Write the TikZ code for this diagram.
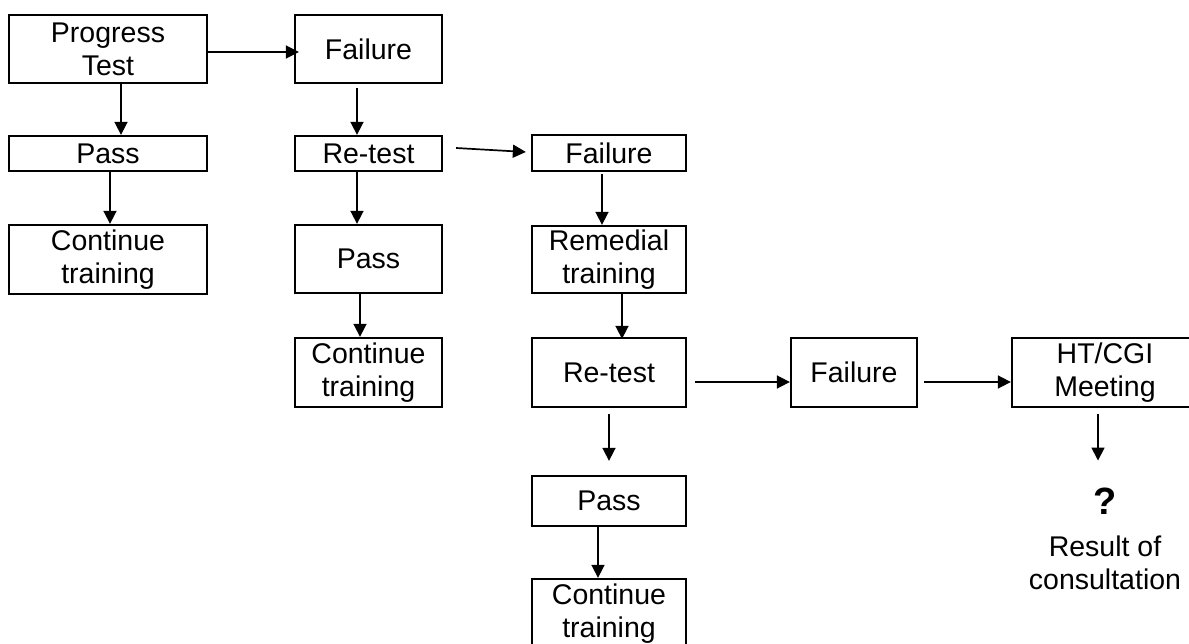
\documentclass[tikz,border=0pt]{standalone}
\usepackage{fontspec}
\setmainfont{Liberation Sans}
\usetikzlibrary{arrows.meta,calc}
\begin{document}
\begin{tikzpicture}[x=1pt,y=-1pt,
  box/.style={draw, line width=2.3pt, inner sep=0pt, align=center, font=\fontsize{28.5}{33}\selectfont},
  arr/.style={line width=1.7pt, -{Triangle[length=13pt,width=13pt]}},
  plain/.style={inner sep=0pt, align=center}
]
\useasboundingbox (0,0) rectangle (1189,644);
\clip (0,0) rectangle (1189,644);
% column 1
\node[box, minimum width=198pt, minimum height=68pt] (prog) at (108,49) {Progress\\Test};
\node[box, minimum width=198pt, minimum height=35pt] (pass1) at (108,153.5) {Pass};
\node[box, minimum width=198pt, minimum height=69pt] (cont1) at (108,259.5) {Continue\\training};
% column 2
\node[box, minimum width=147pt, minimum height=68pt] (fail1) at (368.5,49) {Failure};
\node[box, minimum width=147pt, minimum height=35pt] (retest1) at (368.5,153.5) {Re-test};
\node[box, minimum width=147pt, minimum height=68pt] (pass2) at (368.5,259) {Pass};
\node[box, minimum width=147pt, minimum height=69pt] (cont2) at (368.5,372.5) {Continue\\training};
% column 3
\node[box, minimum width=154pt, minimum height=36pt] (fail2) at (609,153) {Failure};
\node[box, minimum width=154pt, minimum height=67pt] (remed) at (609,259.5) {Remedial\\training};
\node[box, minimum width=154pt, minimum height=69pt] (retest2) at (609,372.5) {Re-test};
\node[box, minimum width=154pt, minimum height=50pt] (pass3) at (609,501) {Pass};
\node[box, minimum width=154pt, minimum height=69pt] (cont3) at (609,613.5) {Continue\\training};
% right part
\node[box, minimum width=126pt, minimum height=69pt] (fail3) at (854,372.5) {Failure};
\node[box, minimum width=186pt, minimum height=69pt] (ht) at (1105,372.5) {HT/CGI\\Meeting};
\node[plain, font=\fontsize{38}{38}\selectfont\bfseries] (q) at (1105,501) {?};
\node[plain, font=\fontsize{28.5}{33}\selectfont] (res) at (1105,563) {Result of\\consultation};
% connectors
\draw[arr] ($(prog.east)+(-2,3)$) -- ($(fail1.west)+(5,3)$);
\draw[arr] ($(prog.south)+(13,0)$) -- ($(pass1.north)+(13,0)$);
\draw[arr] ($(pass1.south)+(2,0)$) -- ($(cont1.north)+(2,0)$);
\draw[arr] ($(fail1.south)+(-11.5,4)$) -- ($(retest1.north)+(-11.5,0)$);
\draw[arr] ($(retest1.south)+(-11.5,0)$) -- ($(pass2.north)+(-11.5,0)$);
\draw[arr] ($(pass2.south)+(-8.5,0)$) -- ($(cont2.north)+(-8.5,0)$);
\draw[arr] ($(retest1.east)+(13,-5.5)$) -- ($(fail2.west)+(-5,-1)$);
\draw[arr] ($(fail2.south)+(-7,2)$) -- ($(remed.north)+(-7,0)$);
\draw[arr] ($(remed.south)+(13,0)$) -- ($(retest2.north)+(13,2)$);
\draw[arr] ($(retest2.south)+(0,6)$) -- ($(pass3.north)+(0,-14)$);
\draw[arr] ($(pass3.south)+(-11,0)$) -- ($(cont3.north)+(-11,0)$);
\draw[arr] ($(retest2.east)+(8,9.5)$) -- ($(fail3.west)+(0,9.5)$);
\draw[arr] ($(fail3.east)+(6,9.5)$) -- ($(ht.west)+(0,9.5)$);
\draw[arr] ($(ht.south)+(-7,6)$) -- ($(q.north)+(-7,-27)$);
\end{tikzpicture}
\end{document}
